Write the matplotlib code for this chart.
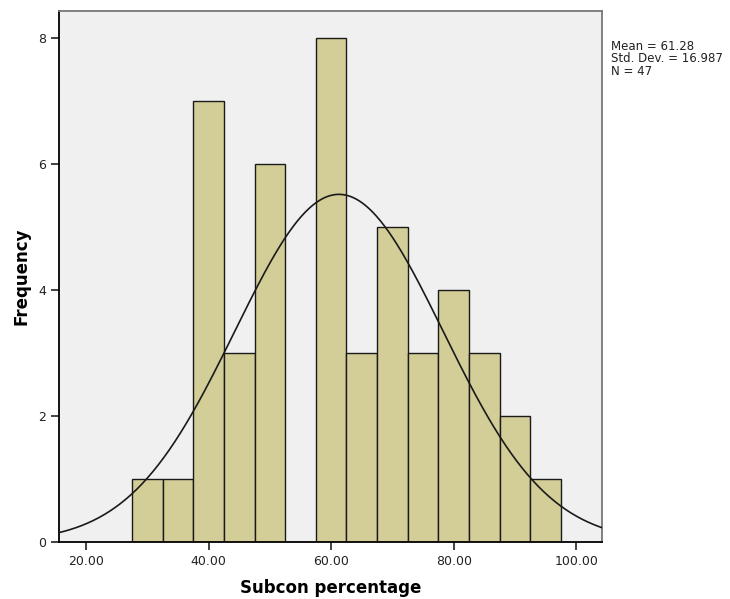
import matplotlib
matplotlib.use("Agg")
import matplotlib.pyplot as plt
import numpy as np

# histogram of subcon percentage, SPSS style
bin_edges = [27.5, 32.5, 37.5, 42.5, 47.5, 52.5, 57.5, 62.5, 67.5, 72.5, 77.5, 82.5, 87.5, 92.5, 97.5]
counts = [1, 1, 7, 3, 6, 0, 8, 3, 5, 3, 4, 3, 2, 1]
mean = 61.28
std = 16.987
n = 47

x_ticks = [20, 40, 60, 80, 100]
y_ticks = [0, 2, 4, 6, 8]

fig = plt.figure(figsize=(7.3, 5.99), dpi=100)
ax = fig.add_axes([0.0808, 0.0952, 0.8247 - 0.0808, 0.9816 - 0.0952])
ax.set_facecolor("#f0f0f0")

lefts = bin_edges[:-1]
widths = np.diff(bin_edges)
ax.bar(lefts, counts, width=widths, align="edge", color="#d3ce97",
       edgecolor="#1a1a1a", linewidth=1.0, zorder=2)

# normal curve scaled to counts
bw = widths[0]
xs = np.linspace(15.6, 104.2, 400)
ys = n * bw / (std * np.sqrt(2 * np.pi)) * np.exp(-0.5 * ((xs - mean) / std) ** 2)
ax.plot(xs, ys, color="#1a1a1a", linewidth=1.2, zorder=3)

ax.set_xlim(15.6, 104.2)
ax.set_ylim(0, 8.43)
ax.set_xticks(x_ticks)
ax.set_xticklabels([f"{v:.2f}" for v in x_ticks])
ax.set_yticks(y_ticks)
ax.tick_params(direction="out", length=6, width=1.2, labelsize=9, colors="#222222")

for side in ["left", "bottom"]:
    ax.spines[side].set_color("#000000")
    ax.spines[side].set_linewidth(1.3)
for side in ["top", "right"]:
    ax.spines[side].set_color("#777777")
    ax.spines[side].set_linewidth(1.3)

ax.set_xlabel("Subcon percentage", fontsize=12, fontweight="bold", labelpad=8)
ax.set_ylabel("Frequency", fontsize=12, fontweight="bold", labelpad=5)

fig.text(611 / 730, 1 - 40 / 599, f"Mean = {mean}\nStd. Dev. = {std}\nN = {n}",
         fontsize=8.5, va="top", ha="left", linespacing=0.95, color="#222222")

fig.savefig("out.png", dpi=100)
